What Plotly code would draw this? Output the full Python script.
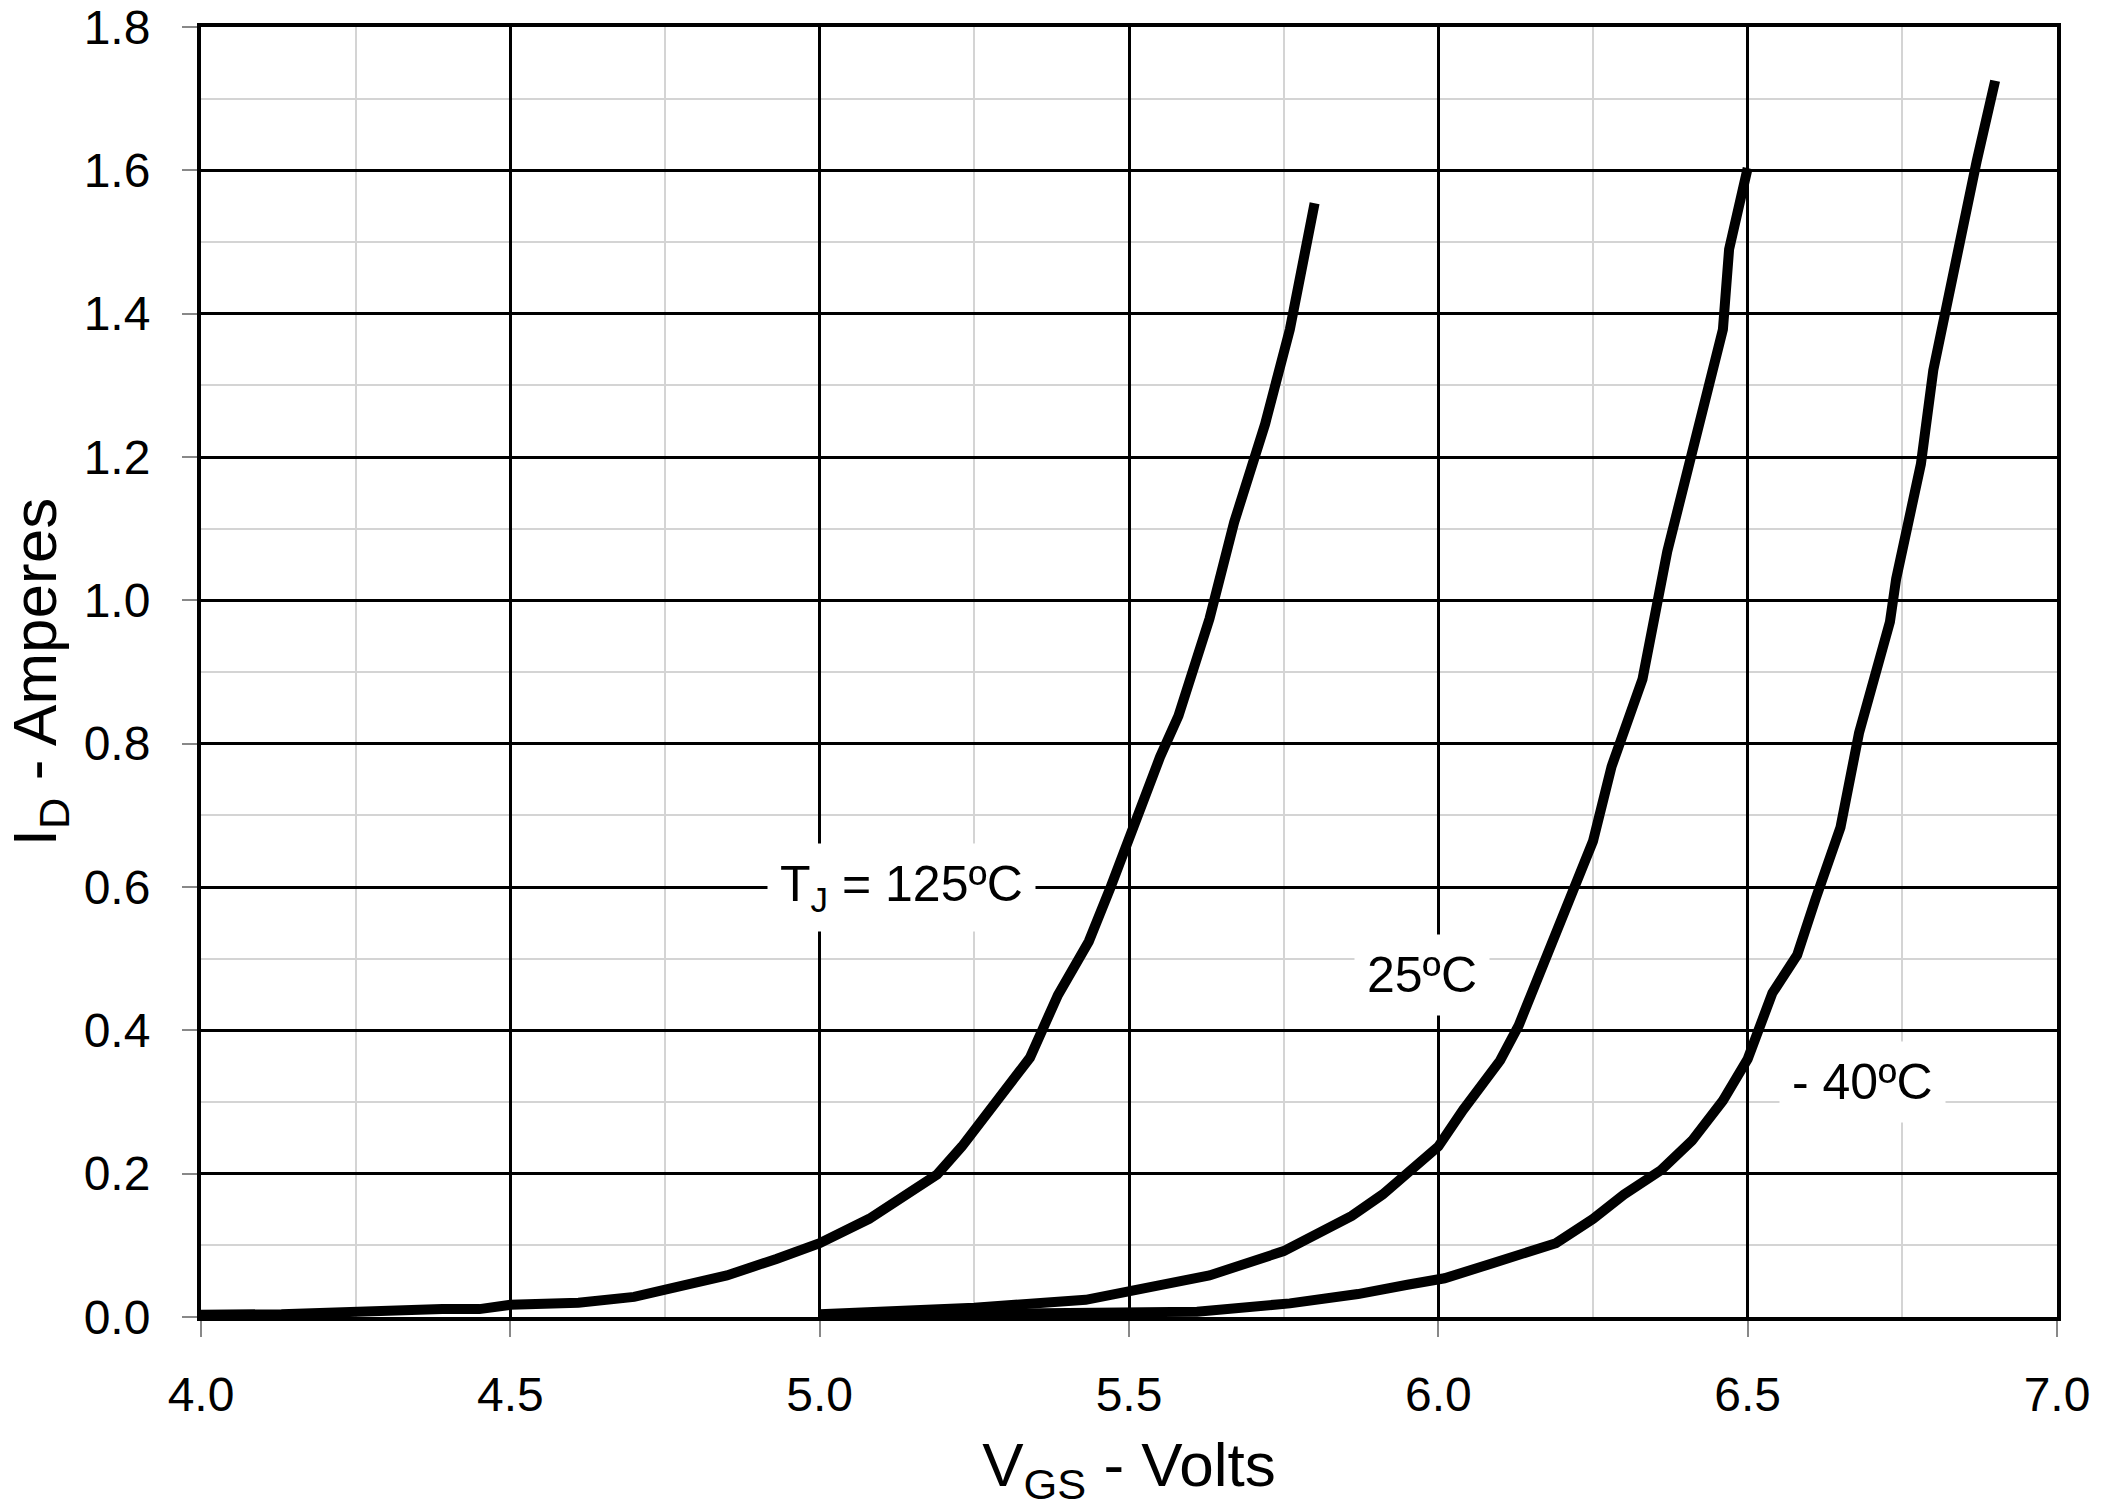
import plotly.graph_objects as go

# 125 C curve
vgs_125 = [4.00, 4.13, 4.39, 4.45, 4.50, 4.61, 4.70, 4.76, 4.85, 4.93, 5.00, 5.08, 5.14, 5.19, 5.23, 5.27,
           5.34, 5.385, 5.435, 5.47, 5.51, 5.55, 5.58, 5.63, 5.67, 5.72, 5.76, 5.80]
id_125 = [0.003, 0.004, 0.011, 0.011, 0.017, 0.020, 0.028, 0.040, 0.058, 0.081, 0.103, 0.137, 0.169, 0.199,
          0.238, 0.283, 0.362, 0.449, 0.524, 0.599, 0.693, 0.781, 0.839, 0.974, 1.109, 1.246, 1.378, 1.554]

# 25 C curve
vgs_25 = [5.00, 5.25, 5.43, 5.52, 5.63, 5.75, 5.86, 5.91, 5.96, 6.00, 6.04, 6.10, 6.13, 6.15, 6.22, 6.25,
          6.28, 6.33, 6.37, 6.42, 6.46, 6.47, 6.50]
id_25 = [0.004, 0.013, 0.024, 0.039, 0.058, 0.092, 0.141, 0.171, 0.208, 0.238, 0.289, 0.358, 0.407, 0.449,
         0.595, 0.664, 0.768, 0.890, 1.068, 1.246, 1.378, 1.490, 1.603]

# -40 C curve
vgs_m40 = [5.00, 5.61, 5.76, 5.87, 5.95, 6.01, 6.08, 6.14, 6.19, 6.25, 6.30, 6.36, 6.41, 6.46, 6.50, 6.54,
           6.58, 6.61, 6.65, 6.68, 6.73, 6.74, 6.78, 6.80, 6.84, 6.87, 6.90]
id_m40 = [0.002, 0.0075, 0.019, 0.032, 0.045, 0.054, 0.073, 0.088, 0.103, 0.137, 0.171, 0.205, 0.246, 0.302,
          0.360, 0.452, 0.505, 0.584, 0.683, 0.815, 0.970, 1.030, 1.190, 1.321, 1.490, 1.612, 1.725]

labels = ["T<sub>J</sub> = 125ºC", "25ºC", "- 40ºC"]
label_x = [5.133, 5.973, 6.686]
label_y = [0.6, 0.477, 0.328]

FONT = "Liberation Sans, Arial, sans-serif"

fig = go.Figure()
for xs, ys in [(vgs_125, id_125), (vgs_25, id_25), (vgs_m40, id_m40)]:
    fig.add_trace(go.Scatter(x=xs, y=ys, mode="lines",
                             line=dict(color="black", width=10), showlegend=False))

for t, x, y in zip(labels, label_x, label_y):
    fig.add_annotation(x=x, y=y, text=t, showarrow=False, bgcolor="white",
                       font=dict(family=FONT, size=50, color="black"), borderpad=12)

fig.update_layout(
    width=2108, height=1510,
    margin=dict(l=201, r=51, t=27, b=193),
    paper_bgcolor="white", plot_bgcolor="white",
    font=dict(family=FONT, size=48, color="black"),
)
fig.update_xaxes(
    range=[4.0, 7.0], dtick=0.5, tick0=4.0, tickformat=".1f", automargin=False,
    showgrid=True, gridcolor="black", gridwidth=3,
    minor=dict(dtick=0.25, showgrid=True, gridcolor="#d4d4d4", gridwidth=1.5),
    showline=True, linecolor="black", linewidth=4, mirror=True,
    ticks="outside", ticklen=16, tickcolor="#888888", tickwidth=1.5,
    ticklabelstandoff=16,
    zeroline=False,
    title=dict(text="V<sub>GS</sub> - Volts", font=dict(size=62), standoff=24),
)
fig.update_yaxes(
    range=[0.0, 1.8], dtick=0.2, tick0=0.0, tickformat=".1f", automargin=False,
    showgrid=True, gridcolor="black", gridwidth=3,
    minor=dict(dtick=0.1, showgrid=True, gridcolor="#d4d4d4", gridwidth=1.5),
    showline=True, linecolor="black", linewidth=4, mirror=True,
    ticks="outside", ticklen=15, tickcolor="#888888", tickwidth=1.5,
    ticklabelstandoff=22,
    zeroline=False,
    title=dict(text="I<sub>D</sub> - Amperes", font=dict(size=62), standoff=18),
)

fig.write_html("out.html")
